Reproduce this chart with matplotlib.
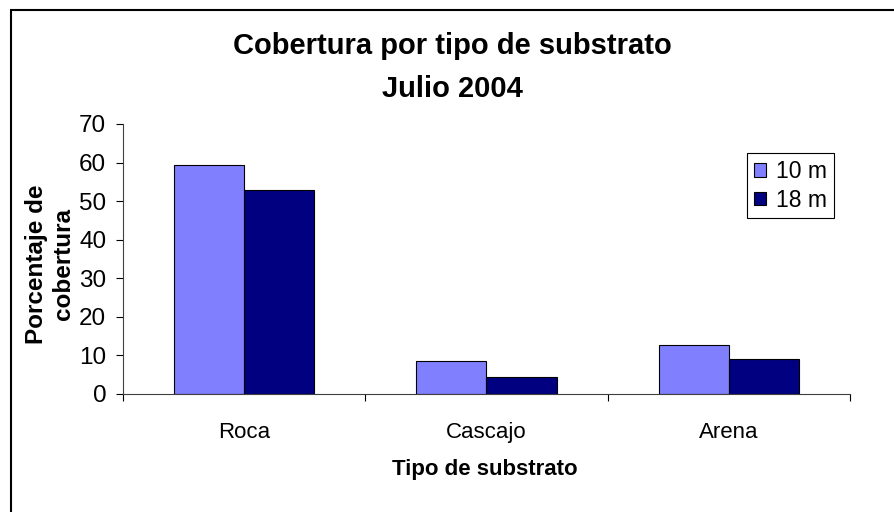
import numpy as np
import matplotlib
import matplotlib.pyplot as plt
from matplotlib.patches import Rectangle
matplotlib.use('Agg')

plt.rcParams['font.family'] = ['Liberation Sans', 'DejaVu Sans']

# Data
categorias = ['Roca', 'Cascajo', 'Arena']
series = ['10 m', '18 m']
valores_10m = [59.3, 8.6, 12.6]
valores_18m = [52.9, 4.3, 9.1]
yticks = [0, 10, 20, 30, 40, 50, 60, 70]

colores = ['#8080FF', '#000080']

W, H = 895, 512
fig = plt.figure(figsize=(W / 100, H / 100), dpi=100)
ax = fig.add_axes([123 / W, 1 - 394 / H, (850 - 123) / W, (394 - 124) / H])

x = np.arange(len(categorias))
ancho = 0.289
ax.bar(x - ancho / 2, valores_10m, ancho, color=colores[0], edgecolor='black', linewidth=0.8, label=series[0])
ax.bar(x + ancho / 2, valores_18m, ancho, color=colores[1], edgecolor='black', linewidth=0.8, label=series[1])

ax.set_xlim(-0.5, len(categorias) - 0.5)
ax.set_ylim(0, 70)
ax.set_yticks(yticks)
ax.tick_params(axis='y', labelsize=17.5, length=5, width=0.8, direction='out', pad=7)

ax.set_xticks(x)
ax.set_xticklabels(categorias, fontsize=16)
ax.tick_params(axis='x', which='major', length=0, pad=20)
ax.set_xticks(np.arange(len(categorias) + 1) - 0.5, minor=True)
ax.tick_params(axis='x', which='minor', length=5, width=0.8, direction='out')

for s in ['top', 'right']:
    ax.spines[s].set_visible(False)
ax.spines['left'].set_color('#404040')
ax.spines['bottom'].set_color('#404040')

fig.text(452 / W, 1 - 46 / H, 'Cobertura por tipo de substrato', ha='center', va='center',
         fontsize=21, fontweight='bold')
fig.text(452 / W, 1 - 89 / H, 'Julio 2004', ha='center', va='center',
         fontsize=21, fontweight='bold')
fig.text(485 / W, 1 - 470 / H, 'Tipo de substrato', ha='center', va='center',
         fontsize=16, fontweight='bold')
fig.text(50 / W, 1 - 264 / H, 'Porcentaje de\ncobertura', ha='center', va='center',
         rotation=90, fontsize=17.5, fontweight='bold', linespacing=1.2)

leg = ax.legend(loc='upper left', bbox_to_anchor=(747 / W, 1 - 153 / H), bbox_transform=fig.transFigure,
                borderaxespad=0, fancybox=False, edgecolor='black', framealpha=1,
                fontsize=16.5, handlelength=0.55, handleheight=0.55, handletextpad=0.4,
                labelspacing=0.25, borderpad=0.3)
leg.get_frame().set_linewidth(0.8)

# marco exterior
fig.patches.append(Rectangle((11 / W, -0.02), 1.0, 1 - 10 / H + 0.02, transform=fig.transFigure,
                             fill=False, edgecolor='black', linewidth=1.5))

fig.savefig('out.png', dpi=100)
